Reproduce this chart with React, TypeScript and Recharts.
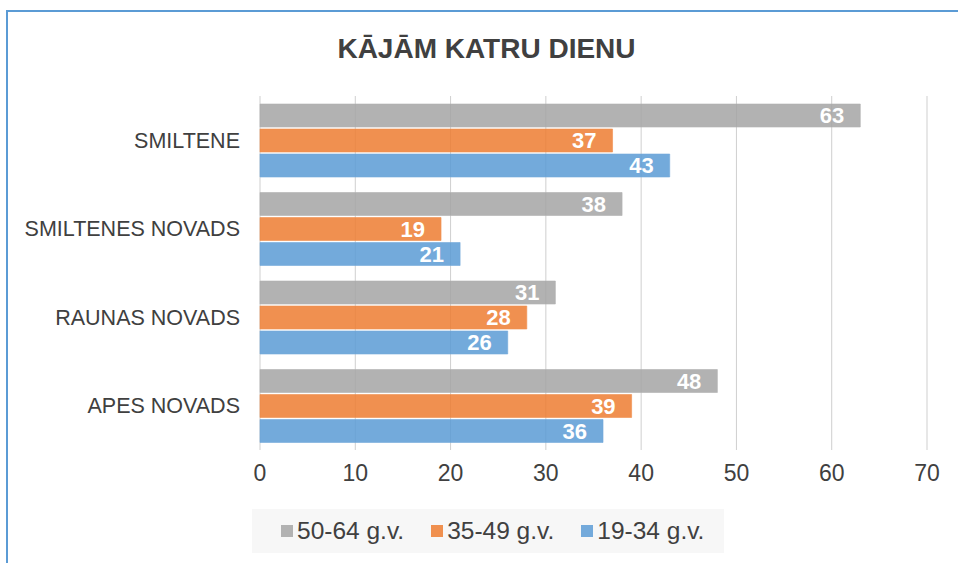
import React from "react";
import { BarChart, Bar, XAxis, YAxis, CartesianGrid, LabelList, Legend } from "recharts";

const categories = ["SMILTENE", "SMILTENES NOVADS", "RAUNAS NOVADS", "APES NOVADS"];
const series5064 = [63, 38, 31, 48];
const series3549 = [37, 19, 28, 39];
const series1934 = [43, 21, 26, 36];
const seriesNames = ["50-64 g.v.", "35-49 g.v.", "19-34 g.v."];
const seriesKeys = ["s5064", "s3549", "s1934"];
const seriesColors = ["#A5A5A5", "#ED7D31", "#5B9BD5"];
const legendColors = ["#b2b2b2", "#f0904f", "#74aadb"];
const xTicks = [0, 10, 20, 30, 40, 50, 60, 70];
const title = "KĀJĀM KATRU DIENU";

const data = categories.map((c, i) => ({
  name: c,
  s5064: series5064[i],
  s3549: series3549[i],
  s1934: series1934[i],
}));

const FONT = '"Liberation Sans", Arial, sans-serif';
const TEXT = "#404040";

const LegendContent = () => (
  <div
    style={{
      width: "100%",
      height: "100%",
      background: "#f7f7f7",
      display: "flex",
      alignItems: "center",
      paddingLeft: 29,
      boxSizing: "border-box",
      fontFamily: FONT,
      fontSize: 24.5,
      color: TEXT,
      whiteSpace: "nowrap",
      overflow: "hidden",
    }}
  >
    {seriesNames.map((n, i) => (
      <div key={n} style={{ display: "flex", alignItems: "center", marginRight: 27, flexShrink: 0 }}>
        <div style={{ width: 12, height: 12, background: legendColors[i], marginRight: 4, flexShrink: 0 }} />
        <span style={{ lineHeight: "24px", whiteSpace: "nowrap" }}>{n}</span>
      </div>
    ))}
  </div>
);

export default function App() {
  return (
    <div style={{ position: "absolute", left: 0, top: 0, width: 958, height: 563, overflow: "hidden", background: "#fff" }}>
      <div
        style={{
          position: "absolute",
          left: 6,
          top: 10,
          width: 1000,
          height: 600,
          borderLeft: "2px solid #5b9bd5",
          borderTop: "2px solid #5b9bd5",
        }}
      />
      <div
        style={{
          position: "absolute",
          left: 0,
          top: 35,
          width: 973,
          textAlign: "center",
          fontFamily: FONT,
          fontWeight: "bold",
          fontSize: 28,
          lineHeight: "28px",
          color: TEXT,
        }}
      >
        {title}
      </div>
      <div style={{ position: "absolute", left: 0, top: 0 }}>
        <BarChart
          width={958}
          height={563}
          data={data}
          layout="vertical"
          margin={{ top: 96, right: 31, left: 10, bottom: 83 }}
          barCategoryGap={8}
          barGap={2}
        >
          <CartesianGrid horizontal={false} vertical={true} stroke="#cfcfcf" strokeWidth={1} />
          <XAxis
            type="number"
            domain={[0, 70]}
            ticks={xTicks}
            axisLine={false}
            tickLine={false}
            tickSize={0}
            tickMargin={15}
            height={30}
            tick={{ fill: TEXT, fontSize: 23, fontFamily: FONT }}
            interval={0}
          />
          <YAxis
            type="category"
            dataKey="name"
            width={250}
            axisLine={false}
            tickLine={false}
            tickSize={0}
            tickMargin={20}
            tick={{ fill: TEXT, fontSize: 21.5, fontFamily: FONT }}
            interval={0}
          />
          <Legend
            layout="horizontal"
            verticalAlign="middle"
            align="center"
            wrapperStyle={{ position: "absolute", left: 252, top: 509, width: 472, height: 44 }}
            content={() => <LegendContent />}
          />
          {seriesKeys.map((k, i) => (
            <Bar
              key={k}
              dataKey={k}
              name={seriesNames[i]}
              fill={seriesColors[i]}
              fillOpacity={0.85}
              stroke={legendColors[i]}
              strokeOpacity={0.6}
              strokeWidth={1}
              isAnimationActive={false}
            >
              <LabelList
                dataKey={k}
                position="insideRight"
                offset={16}
                fill="#ffffff"
                style={{ fontFamily: FONT, fontSize: 22, fontWeight: "bold" }}
              />
            </Bar>
          ))}
        </BarChart>
      </div>
    </div>
  );
}
